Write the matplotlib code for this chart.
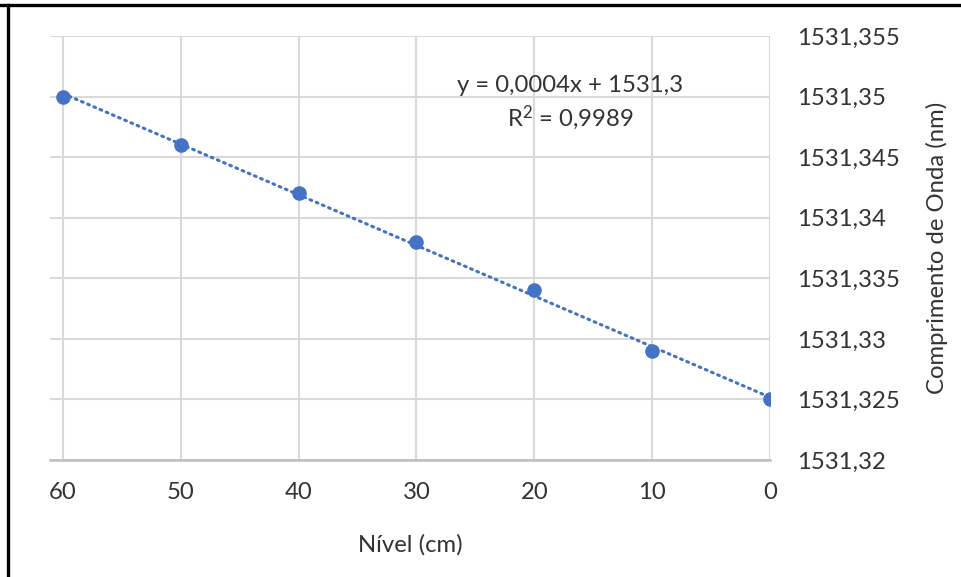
import numpy as np
import matplotlib
matplotlib.use("Agg")
import matplotlib.pyplot as plt
from matplotlib.lines import Line2D
from matplotlib.ticker import FixedLocator, FuncFormatter

plt.rcParams['font.family'] = ['Lato', 'DejaVu Sans']
plt.rcParams['mathtext.fontset'] = 'custom'
plt.rcParams['mathtext.rm'] = 'Lato'
plt.rcParams['mathtext.it'] = 'Lato'
plt.rcParams['mathtext.default'] = 'regular'

nivel_cm = [60, 50, 40, 30, 20, 10, 0]
comprimento_nm = [1531.350, 1531.346, 1531.342, 1531.338, 1531.334, 1531.329, 1531.325]
x_ticks = [60, 50, 40, 30, 20, 10, 0]
y_ticks = [1531.32, 1531.325, 1531.33, 1531.335, 1531.34, 1531.345, 1531.35, 1531.355]
y_tick_labels = ["1531,32", "1531,325", "1531,33", "1531,335", "1531,34",
                 "1531,345", "1531,35", "1531,355"]
equation_text = "y = 0,0004x + 1531,3"
r2_text = "R$^2$ = 0,9989"

W, H = 962, 577
FS = 17.2
fig = plt.figure(figsize=(W / 100, H / 100), dpi=100)
fig.patch.set_facecolor("white")

ax = fig.add_axes([50 / W, 1 - 460 / H, (770 - 50) / W, (460 - 36) / H])

blue = "#4472C4"
text_col = "#333333"
grid_col = "#D9D9D9"

# linear trend line
coef = np.polyfit(nivel_cm, comprimento_nm, 1)
xs = np.array([max(nivel_cm), min(nivel_cm)])
ax.plot(xs, np.polyval(coef, xs), linestyle=(0, (0.6, 1.6)), color=blue,
        linewidth=2.2, dash_capstyle="round", zorder=2)

ax.plot(nivel_cm, comprimento_nm, "o", color=blue, markersize=10.5,
        markeredgewidth=0, zorder=3)

ax.set_xlim(61.1, 0)
ax.set_ylim(1531.32, 1531.355)

ax.xaxis.set_major_locator(FixedLocator(x_ticks))
ax.yaxis.set_major_locator(FixedLocator(y_ticks))
ax.yaxis.set_major_formatter(FuncFormatter(
    lambda v, p: y_tick_labels[int(round((v - 1531.32) / 0.005))]))

ax.yaxis.tick_right()
ax.yaxis.set_label_position("right")
ax.tick_params(axis="both", length=0, labelsize=FS, labelcolor=text_col)
ax.tick_params(axis="y", pad=19.5)
ax.tick_params(axis="x", pad=16)
for lab in ax.get_yticklabels():
    lab.set_horizontalalignment("left")

ax.grid(True, color=grid_col, linewidth=1.5)
ax.set_axisbelow(True)
for side in ["top", "left", "right"]:
    ax.spines[side].set_visible(False)
ax.spines["bottom"].set_color("#BFBFBF")
ax.spines["bottom"].set_linewidth(1.8)

ax.set_xlabel("Nível (cm)", fontsize=FS, color=text_col, labelpad=22)
ax.set_ylabel("Comprimento de Onda (nm)", fontsize=FS, color=text_col,
              labelpad=19)

fig.text(570 / W, 1 - 85 / H, equation_text, ha="center", va="center",
         fontsize=FS, color=text_col)
fig.text(570 / W, 1 - 118 / H, r2_text, ha="center", va="center",
         fontsize=FS, color=text_col)

# outer frame lines
fig.add_artist(Line2D([0, 1], [1 - 5 / H, 1 - 5 / H], transform=fig.transFigure,
                      color="black", linewidth=2.4))
fig.add_artist(Line2D([8 / W, 8 / W], [0, 1 - 5 / H], transform=fig.transFigure,
                      color="black", linewidth=2.4))

fig.savefig("out.png", dpi=100, facecolor="white")
